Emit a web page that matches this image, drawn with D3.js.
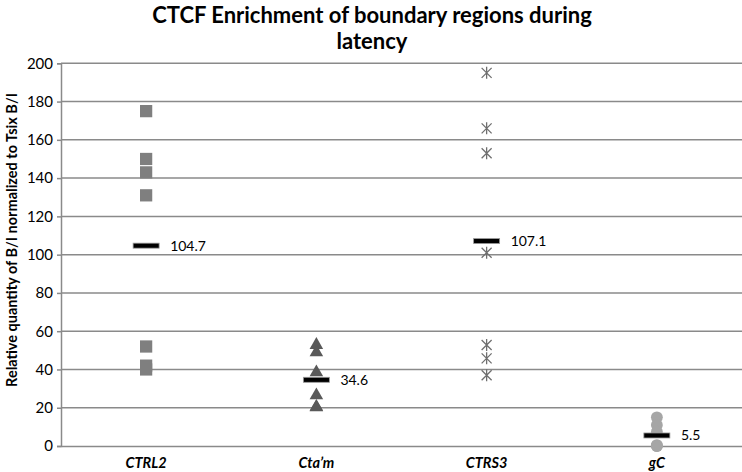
<!DOCTYPE html>
<html>
<head>
<meta charset="utf-8">
<title>CTCF Enrichment</title>
<script src="https://d3js.org/d3.v7.min.js"></script>
<style>
  body { margin: 0; background: #fff; }
  text { font-family: Lato, "Open Sans", sans-serif; }
</style>
</head>
<body>
<svg id="chart" width="742" height="472"></svg>
<script>
// categories and values
var categories = ["CTRL2", "Cta\u2019m", "CTRS3", "gC"];
var ctrl2 = [175, 150, 143, 131, 52, 42, 40];
var ctam  = [52.8, 49, 38.5, 26.5, 20.5, 20.2];
var ctrs3 = [195, 166, 153, 101, 52.8, 45.8, 37];
var gc    = [15, 11, 7.5, 0.5, 0, 0];
var means = [104.7, 34.6, 107.1, 5.5];
var yTicks = [0, 20, 40, 60, 80, 100, 120, 140, 160, 180, 200];

var series = [ctrl2, ctam, ctrs3, gc];
var shapes = ["square", "triangle", "star", "circle"];
var colors = ["#7f7f7f", "#595959", "#6f6f6f", "#a6a6a6"];

var svg = d3.select("#chart");
var m = { left: 61, right: 742, top: 63.3, bottom: 446 };

var x = d3.scaleBand().domain(categories).range([m.left, m.right]);
var y = d3.scaleLinear().domain([0, 200]).range([m.bottom, m.top]);

// title
svg.append("text")
  .attr("x", 372).attr("y", 23)
  .attr("text-anchor", "middle")
  .attr("font-size", "22px").attr("font-weight", "bold")
  .text("CTCF Enrichment of boundary regions during");
svg.append("text")
  .attr("x", 372).attr("y", 49)
  .attr("text-anchor", "middle")
  .attr("font-size", "22px").attr("font-weight", "bold")
  .text("latency");

// gridlines
svg.append("g")
  .selectAll("line")
  .data(yTicks.slice(1))
  .join("line")
  .attr("x1", m.left).attr("x2", m.right)
  .attr("y1", d => y(d)).attr("y2", d => y(d))
  .attr("stroke", "#8a8a8a").attr("stroke-width", 1.5);

// y axis
var yAxis = svg.append("g")
  .attr("transform", "translate(" + m.left + ",0)")
  .call(d3.axisLeft(y).tickValues(yTicks).tickSize(4).tickPadding(4));
yAxis.select(".domain").attr("stroke", "#8a8a8a").attr("stroke-width", 1.5);
yAxis.selectAll(".tick line").attr("stroke", "#8a8a8a").attr("stroke-width", 1.5);
yAxis.selectAll(".tick text")
  .attr("font-size", "15px").attr("fill", "#000")
  .attr("font-family", "Lato, sans-serif");

// x axis
var xAxis = svg.append("g")
  .attr("transform", "translate(0," + m.bottom + ")")
  .call(d3.axisBottom(x).tickSize(0).tickPadding(12));
xAxis.select(".domain").attr("stroke", "#8a8a8a").attr("stroke-width", 1.5);
xAxis.selectAll(".tick text")
  .attr("font-size", "14.5px").attr("font-weight", "bold")
  .attr("font-style", "italic").attr("fill", "#000")
  .attr("font-family", "Lato, sans-serif");

// y axis title
svg.append("text")
  .attr("transform", "translate(17,240) rotate(-90)")
  .attr("text-anchor", "middle")
  .attr("font-size", "14.5px").attr("font-weight", "bold")
  .text("Relative quantity of B/I normalized to Tsix B/I");

// points
var symbolFor = {
  square: d3.symbol().type(d3.symbolSquare).size(150),
  triangle: d3.symbol().type(d3.symbolTriangle).size(80),
  circle: d3.symbol().type(d3.symbolCircle).size(110)
};

series.forEach(function (vals, i) {
  var cx = x(categories[i]) + x.bandwidth() / 2;
  var g = svg.append("g");
  if (shapes[i] === "star") {
    g.selectAll("path")
      .data(vals)
      .join("path")
      .attr("transform", d => "translate(" + cx + "," + y(d) + ")")
      .attr("d", "M-5,-5L5,5M-5,5L5,-5M0,-6L0,6")
      .attr("fill", "none")
      .attr("stroke", colors[i]).attr("stroke-width", 1.3);
  } else {
    g.selectAll("path")
      .data(vals)
      .join("path")
      .attr("transform", d => "translate(" + cx + "," + y(d) + ")")
      .attr("d", symbolFor[shapes[i]])
      .attr("fill", colors[i]);
  }
});

// mean bars and labels
var mg = svg.append("g");
mg.selectAll("rect")
  .data(means)
  .join("rect")
  .attr("x", (d, i) => x(categories[i]) + x.bandwidth() / 2 - 13)
  .attr("y", d => y(d) - 2.5)
  .attr("width", 26).attr("height", 5)
  .attr("fill", "#000")
  .attr("stroke", "#9a9a9a").attr("stroke-width", 0.8);
mg.selectAll("text")
  .data(means)
  .join("text")
  .attr("x", (d, i) => x(categories[i]) + x.bandwidth() / 2 + 24)
  .attr("y", d => y(d) + 5)
  .attr("font-size", "14px")
  .text(d => d);
</script>
</body>
</html>
